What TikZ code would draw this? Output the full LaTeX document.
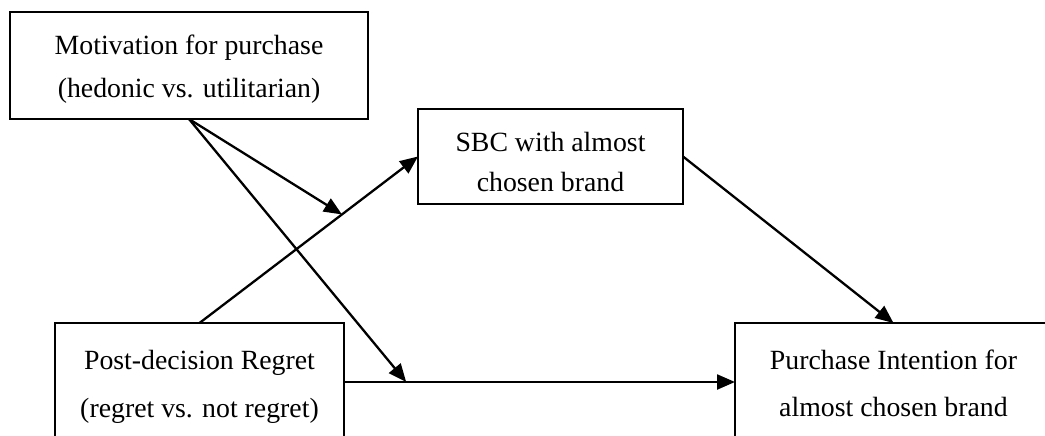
\documentclass[tikz,border=0pt]{standalone}
\usepackage{fontspec}
\setmainfont{Liberation Serif}
\usetikzlibrary{arrows.meta}
\begin{document}
\begin{tikzpicture}[x=1pt,y=-1pt,
  box/.style={draw, line width=2.7pt, inner sep=0pt, outer sep=0pt},
  txt/.style={anchor=base, inner sep=0pt, font=\fontsize{27.8}{33}\selectfont},
  arr/.style={line width=2.3pt, -{Triangle[length=18pt,width=15pt]}}]
\useasboundingbox (0,0) rectangle (1045,436);
\clip (0,0) rectangle (1045,436);
% boxes
\node[box, minimum width=358pt, minimum height=107pt] (mot) at (189,65.5) {};
\node[box, minimum width=265pt, minimum height=95pt] (sbc) at (550.5,156.5) {};
\node[box, minimum width=289pt, minimum height=118pt] (post) at (199.5,382) {};
\node[box, minimum width=317pt, minimum height=118pt] (pi) at (893.5,382) {};
% texts
\node[txt] (motA) at (189,55) {Motivation for purchase};
\node[txt] (motB) at (189,97) {(hedonic vs. utilitarian)};
\node[txt] (sbcA) at (550.5,151) {SBC with almost};
\node[txt] (sbcB) at (550.5,191) {chosen brand};
\node[txt] (postA) at (199.5,369) {Post-decision Regret};
\node[txt] (postB) at (199.5,417) {(regret vs. not regret)};
\node[txt] (piA) at (893.5,369) {Purchase Intention for};
\node[txt] (piB) at (893.5,416) {almost chosen brand};
% connectors
\draw[arr] (post.north) -- coordinate[pos=0.652] (m1) (sbc.west);
\draw[arr] (post.east) -- coordinate[pos=0.159] (m2) (pi.west);
\draw[arr] (sbc.east) -- (pi.north);
\draw[arr] (mot.south) -- (m1);
\draw[arr] (mot.south) -- (m2);
\end{tikzpicture}
\end{document}
